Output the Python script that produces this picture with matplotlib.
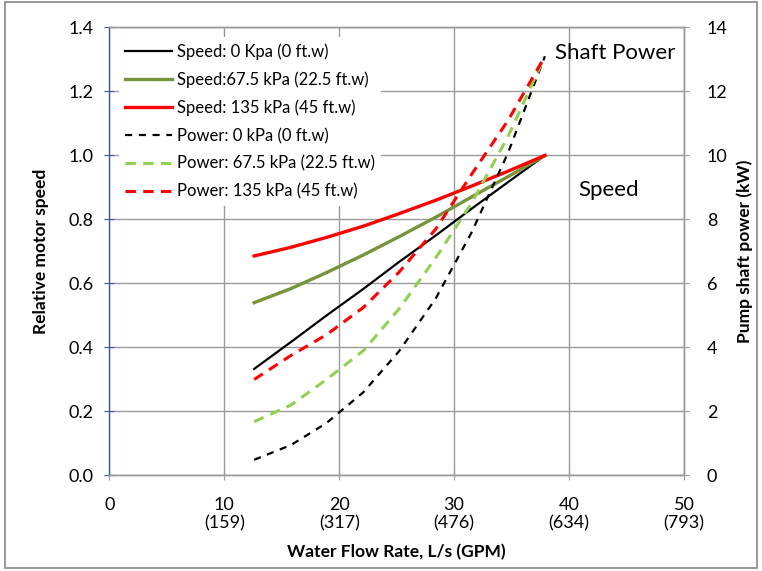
import matplotlib
matplotlib.use("Agg")
import matplotlib.pyplot as plt
from matplotlib.patches import Rectangle

plt.rcParams['font.family'] = ['Lato', 'DejaVu Sans']

flow = [12.6, 15.8, 18.9, 22.1, 25.2, 28.4, 31.5, 34.7, 37.9]
speed_0 = [0.333, 0.417, 0.500, 0.583, 0.667, 0.750, 0.833, 0.917, 1.000]
speed_67 = [0.540, 0.584, 0.634, 0.689, 0.746, 0.807, 0.870, 0.934, 1.000]
speed_135 = [0.686, 0.713, 0.744, 0.779, 0.818, 0.860, 0.904, 0.951, 1.000]
power_0 = [0.49, 0.95, 1.64, 2.60, 3.88, 5.53, 7.58, 10.09, 13.1]
power_67 = [1.68, 2.20, 3.00, 3.90, 5.20, 6.80, 8.50, 10.60, 13.1]
power_135 = [3.00, 3.75, 4.40, 5.25, 6.35, 7.70, 9.40, 11.10, 13.1]

xticks = [0, 10, 20, 30, 40, 50]
xlabels = ["0", "10\n(159)", "20\n(317)", "30\n(476)", "40\n(634)", "50\n(793)"]
yticks_left = [0.0, 0.2, 0.4, 0.6, 0.8, 1.0, 1.2, 1.4]
yticks_right = [0, 2, 4, 6, 8, 10, 12, 14]

fig = plt.figure(figsize=(7.62, 5.71), dpi=100)
fig.patches.append(Rectangle((0.007, 0.006), 0.986, 0.99, transform=fig.transFigure,
                             fill=False, edgecolor='#888888', lw=1.2))
ax = fig.add_axes([0.1435, 0.1673, 0.7541, 0.7846])
ax2 = ax.twinx()

grid_c = '#9a9a9a'
ax.set_xlim(0, 50)
ax.set_ylim(0, 1.4)
ax2.set_ylim(0, 14)
ax.set_xticks(xticks)
ax.set_xticklabels(xlabels)
ax.set_yticks(yticks_left)
ax.set_yticklabels([f"{v:.1f}" for v in yticks_left])
ax2.set_yticks(yticks_right)
ax.grid(True, color=grid_c, lw=1.0)
ax.set_axisbelow(True)

for a in (ax, ax2):
    for s in a.spines.values():
        s.set_color(grid_c)
        s.set_linewidth(1.0)
ax.spines['left'].set_color('#3b5a9a')
ax2.spines['left'].set_visible(False)

ax.tick_params(axis='x', direction='inout', length=7, color=grid_c, labelsize=13, pad=12)
ax.tick_params(axis='y', direction='inout', length=7, color='#3b5a9a', labelsize=13, pad=8)
ax2.tick_params(axis='y', direction='inout', length=7, color=grid_c, labelsize=13, pad=13)
for lab in ax.get_xticklabels():
    lab.set_linespacing(1.15)

h1, = ax.plot(flow, speed_0, color='black', lw=1.6, label='Speed: 0 Kpa (0 ft.w)')
h2, = ax.plot(flow, speed_67, color='#77933C', lw=2.4, label='Speed:67.5 kPa (22.5 ft.w)')
h3, = ax.plot(flow, speed_135, color='#FF0000', lw=2.4, label='Speed: 135 kPa (45 ft.w)')
h4, = ax2.plot(flow, power_0, color='black', lw=1.6, dashes=(3.2, 3.0), label='Power: 0 kPa (0 ft.w)')
h5, = ax2.plot(flow, power_67, color='#92D050', lw=2.2, dashes=(3.4, 2.4), label='Power: 67.5 kPa (22.5 ft.w)')
h6, = ax2.plot(flow, power_135, color='#FF0000', lw=2.2, dashes=(3.4, 2.4), label='Power: 135 kPa (45 ft.w)')

leg = ax2.legend(handles=[h1, h2, h3, h4, h5, h6], loc='upper left',
                 bbox_to_anchor=(0.0, 1.0), fontsize=12, frameon=True,
                 handlelength=2.8, handletextpad=0.3, labelspacing=0.7,
                 borderaxespad=0.6, borderpad=0.35)
leg.get_frame().set_edgecolor('none')
leg.get_frame().set_facecolor('white')
leg.get_frame().set_alpha(1.0)

ax.text(38.8, 1.32, 'Shaft Power', fontsize=16, va='center', ha='left')
ax.text(40.8, 0.892, 'Speed', fontsize=16, va='center', ha='left')

ax.set_xlabel('Water Flow Rate, L/s (GPM)', fontsize=12.5, fontweight='bold', labelpad=9)
ax.set_ylabel('Relative motor speed', fontsize=12.5, fontweight='bold', labelpad=14)
ax2.set_ylabel('Pump shaft power (kW)', fontsize=12.5, fontweight='bold', labelpad=6)

fig.savefig('out.png', dpi=100)
